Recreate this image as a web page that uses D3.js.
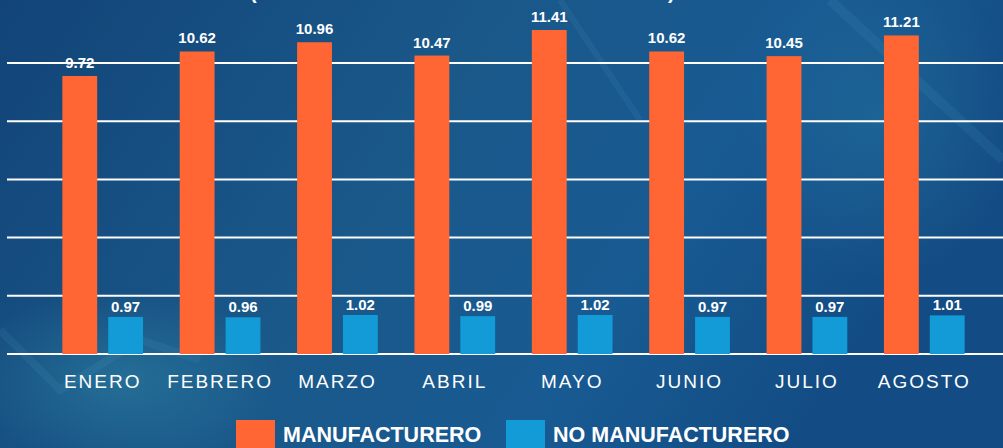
<!DOCTYPE html>
<html>
<head>
<meta charset="utf-8">
<script src="https://cdn.jsdelivr.net/npm/d3@7"></script>
<style>
  html, body { margin: 0; padding: 0; background: #144a80; }
  svg { display: block; font-family: "Liberation Sans", Arial, sans-serif; }
</style>
</head>
<body>
<div id="chart"></div>
<script>
const meses = ["ENERO", "FEBRERO", "MARZO", "ABRIL", "MAYO", "JUNIO", "JULIO", "AGOSTO"];
const manufacturero = [9.72, 10.62, 10.96, 10.47, 11.41, 10.62, 10.45, 11.21];
const noManufacturero = [0.97, 0.96, 1.02, 0.99, 1.02, 0.97, 0.97, 1.01];
const series = ["MANUFACTURERO", "NO MANUFACTURERO"];
const gridTicks = [0, 2, 4, 6, 8, 10];

const width = 1003, height = 448;
const baseline = 354;
const colors = { "MANUFACTURERO": "#ff6633", "NO MANUFACTURERO": "#129bd6" };

const data = meses.map((m, i) => ({ mes: m, m: manufacturero[i], n: noManufacturero[i] }));

const svg = d3.select("#chart").append("svg")
  .attr("width", width)
  .attr("height", height)
  .attr("viewBox", [0, 0, width, height]);

// background
const defs = svg.append("defs");
const bg = defs.append("linearGradient").attr("id", "bg").attr("x1", 0).attr("x2", 1).attr("y1", 0).attr("y2", 0.3);
bg.append("stop").attr("offset", 0).attr("stop-color", "#124478");
bg.append("stop").attr("offset", 0.45).attr("stop-color", "#1a5889");
bg.append("stop").attr("offset", 0.75).attr("stop-color", "#185a92");
bg.append("stop").attr("offset", 1).attr("stop-color", "#134c84");
const glow = defs.append("radialGradient").attr("id", "glow");
glow.append("stop").attr("offset", 0).attr("stop-color", "#3aa0b8").attr("stop-opacity", 0.35);
glow.append("stop").attr("offset", 1).attr("stop-color", "#3aa0b8").attr("stop-opacity", 0);

svg.append("rect").attr("width", width).attr("height", height).attr("fill", "url(#bg)");
svg.append("ellipse").attr("cx", 120).attr("cy", 380).attr("rx", 160).attr("ry", 90).attr("fill", "url(#glow)");
svg.append("ellipse").attr("cx", 880).attr("cy", 120).attr("rx", 140).attr("ry", 160).attr("fill", "url(#glow)").attr("opacity", 0.6);
// faint streaks
const streaks = svg.append("g").attr("stroke", "#5fb0d0").attr("stroke-opacity", 0.1).attr("fill", "none");
streaks.append("path").attr("d", "M830,0 L1003,160").attr("stroke-width", 10);
streaks.append("path").attr("d", "M0,330 L60,390 L140,340 L200,360").attr("stroke-width", 8);
streaks.append("path").attr("d", "M560,0 L640,120").attr("stroke-width", 6);

// scales
const x = d3.scaleBand().domain(meses).range([44, 983]).padding(0);
const xInner = d3.scaleBand().domain(["m", "n"]).range([0, x.bandwidth()])
  .paddingInner(0.24).paddingOuter(0.4);
const yM = d3.scaleLinear().domain([-0.5, d3.max(manufacturero)]).range([baseline, 30]);
const yN = d3.scaleLinear().domain([0, d3.max(noManufacturero)]).range([baseline, 315]);
const yGrid = d3.scaleLinear().domain([0, 10]).range([baseline, 63]);

// title (cut off at the top, as in the source)
const gTitle = svg.append("g").attr("fill", "#fff").attr("font-size", 20).attr("font-weight", "bold");
gTitle.append("text").attr("x", 250).attr("y", -1).text("(");
gTitle.append("text").attr("x", 668).attr("y", -1).text(")");

// grid
svg.append("g").attr("class", "grid")
  .selectAll("line")
  .data(gridTicks)
  .join("line")
  .attr("x1", 7)
  .attr("x2", width)
  .attr("y1", (d) => yGrid(d))
  .attr("y2", (d) => yGrid(d))
  .attr("stroke", "#fff")
  .attr("stroke-width", 2);

// bars
const gGroups = svg.append("g").selectAll("g")
  .data(data)
  .join("g")
  .attr("transform", (d) => `translate(${x(d.mes)},0)`);

gGroups.append("rect")
  .attr("x", xInner("m"))
  .attr("width", xInner.bandwidth())
  .attr("y", (d) => yM(d.m))
  .attr("height", (d) => baseline - yM(d.m))
  .attr("fill", colors["MANUFACTURERO"]);

gGroups.append("rect")
  .attr("x", xInner("n"))
  .attr("width", xInner.bandwidth())
  .attr("y", (d) => yN(d.n))
  .attr("height", (d) => baseline - yN(d.n))
  .attr("fill", colors["NO MANUFACTURERO"]);

gGroups.append("text")
  .attr("x", xInner("m") + xInner.bandwidth() / 2)
  .attr("y", (d) => yM(d.m) - 8)
  .attr("text-anchor", "middle")
  .attr("fill", "#fff")
  .attr("font-size", 15)
  .attr("font-weight", "bold")
  .text((d) => d.m.toFixed(2));

gGroups.append("text")
  .attr("x", xInner("n") + xInner.bandwidth() / 2)
  .attr("y", (d) => yN(d.n) - 5)
  .attr("text-anchor", "middle")
  .attr("fill", "#fff")
  .attr("font-size", 15)
  .attr("font-weight", "bold")
  .text((d) => d.n.toFixed(2));

// x axis labels
svg.append("g")
  .attr("transform", `translate(0,${baseline})`)
  .call(d3.axisBottom(x).tickSize(0).tickPadding(0))
  .call((g) => g.select(".domain").remove())
  .call((g) => g.selectAll(".tick text")
    .attr("dy", null)
    .attr("y", 34)
    .attr("fill", "#fff")
    .attr("font-size", 19)
    .attr("letter-spacing", "2px")
    .attr("font-family", "\"Liberation Sans\", Arial, sans-serif"));

// legend
const legendX = [236, 506];
const gLegend = svg.append("g").selectAll("g")
  .data(series)
  .join("g")
  .attr("transform", (d, i) => `translate(${legendX[i]},420)`);
gLegend.append("rect").attr("width", 39).attr("height", 39).attr("fill", (d) => colors[d]);
gLegend.append("text")
  .attr("x", 47)
  .attr("y", 22)
  .attr("fill", "#fff")
  .attr("font-size", 21.5)
  .attr("font-weight", "bold")
  .text((d) => d);
</script>
</body>
</html>
